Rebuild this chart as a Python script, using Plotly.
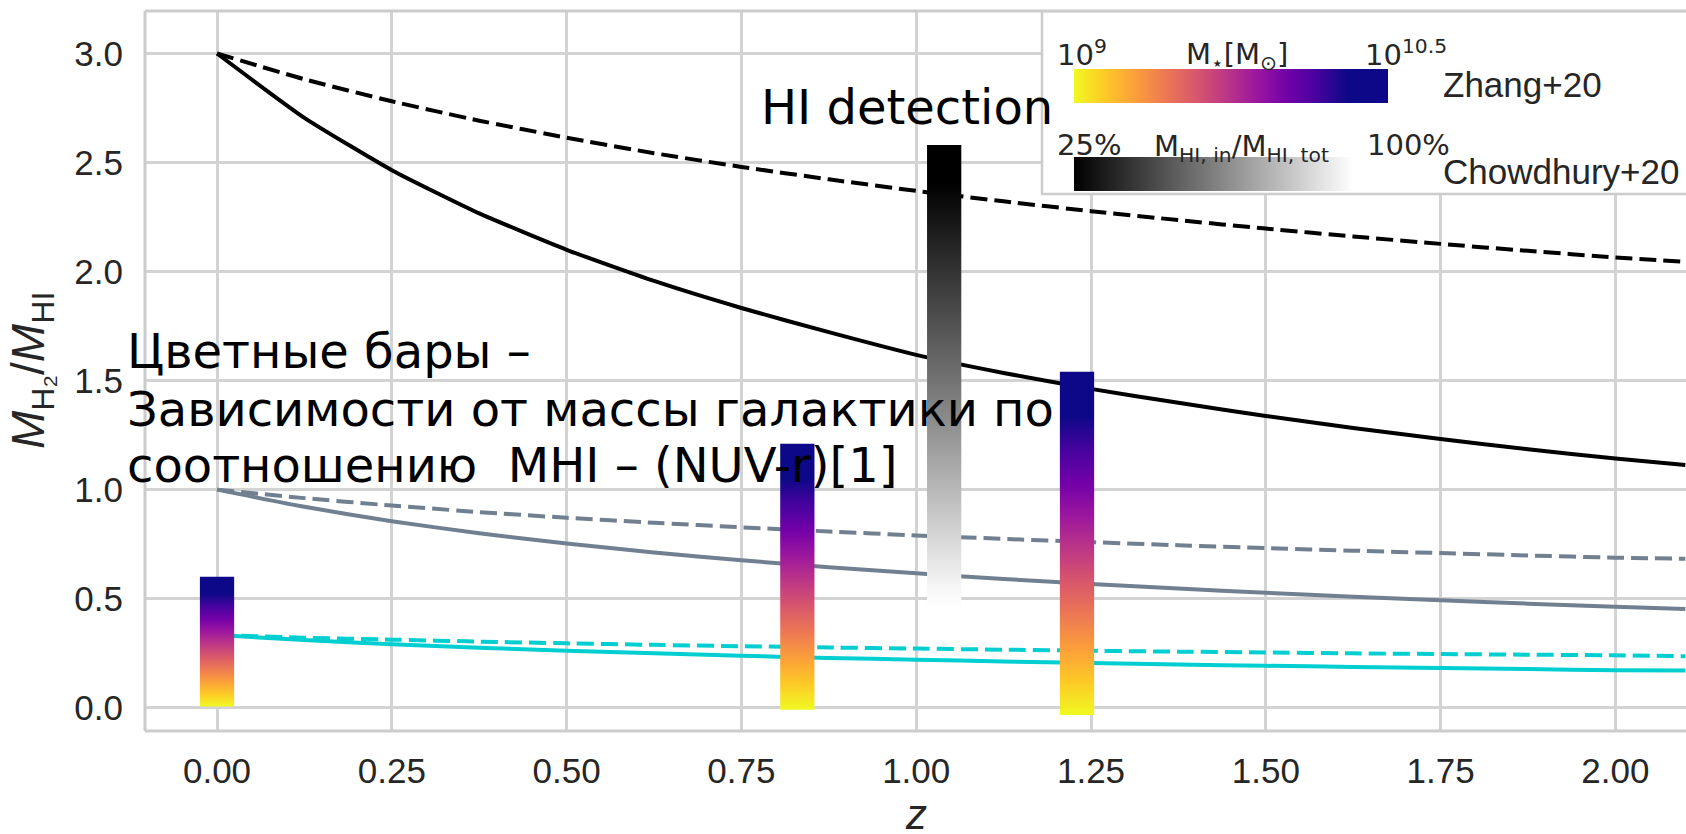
import plotly.graph_objects as go

# ---------------- data ----------------
z_model = [0.0, 0.125, 0.25, 0.375, 0.5, 0.625, 0.75, 0.875, 1.0, 1.125, 1.25,
           1.375, 1.5, 1.625, 1.75, 1.875, 2.0, 2.1]
black_solid = [3.00, 2.705, 2.465, 2.267, 2.100, 1.957, 1.833, 1.722, 1.618, 1.535, 1.462,
               1.398, 1.338, 1.283, 1.232, 1.185, 1.143, 1.113]
black_dashed = [3.00, 2.882, 2.781, 2.692, 2.614, 2.543, 2.480, 2.423, 2.370, 2.322, 2.277,
                2.236, 2.197, 2.161, 2.127, 2.095, 2.065, 2.045]
grey_solid = [1.00, 0.921, 0.855, 0.800, 0.753, 0.712, 0.676, 0.644, 0.616, 0.590, 0.567,
              0.546, 0.527, 0.509, 0.493, 0.477, 0.463, 0.452]
grey_dashed = [1.00, 0.961, 0.927, 0.897, 0.871, 0.848, 0.827, 0.808, 0.790, 0.774, 0.759,
               0.745, 0.732, 0.720, 0.709, 0.698, 0.688, 0.683]
cyan_solid = [0.333, 0.310, 0.291, 0.275, 0.261, 0.249, 0.238, 0.228, 0.220, 0.212, 0.205,
              0.198, 0.192, 0.187, 0.182, 0.177, 0.172, 0.170]
cyan_dashed = [0.333, 0.321, 0.312, 0.303, 0.295, 0.288, 0.282, 0.276, 0.271, 0.266, 0.261,
               0.257, 0.253, 0.249, 0.246, 0.243, 0.240, 0.236]

zhang_z = [0.0, 0.83, 1.23]
zhang_bottom = [0.005, -0.01, -0.034]
zhang_top = [0.60, 1.21, 1.54]

chow_z = [1.04]
chow_bottom = [0.46]
chow_top = [2.58]

bar_width = 0.049

x_ticks = [0.0, 0.25, 0.5, 0.75, 1.0, 1.25, 1.5, 1.75, 2.0]
y_ticks = [0.0, 0.5, 1.0, 1.5, 2.0, 2.5, 3.0]

# ---------------- styles ----------------
PLASMA = ['#0d0887', '#46039f', '#7201a8', '#9c179e', '#bd3786',
          '#d8576b', '#ed7953', '#fb9f3a', '#fdca26', '#f0f921']
plasma_up = [[i / 9 * 0.87, c] for i, c in enumerate(reversed(PLASMA))] + [[1.0, '#0d0887']]
grey_up = [[0.0, '#ffffff'], [0.04, '#f7f7f7'], [0.5, '#707070'], [0.92, '#000000'], [1.0, '#000000']]
grey_right = [[0.0, '#000000'], [0.89, '#ffffff'], [1.0, '#ffffff']]

GRID = '#d3d3d3'
TXT = '#262626'
SANS = 'Liberation Sans, Arial, sans-serif'
DV = 'DejaVu Sans, sans-serif'
DASH = '17px,7px'
LW = 4

fig = go.Figure()

lines = [
    (black_dashed, 'black', DASH),
    (black_solid, 'black', 'solid'),
    (grey_dashed, '#708090', DASH),
    (grey_solid, '#708090', 'solid'),
    (cyan_dashed, '#00ced1', DASH),
    (cyan_solid, '#00ced1', 'solid'),
]
for vals, col, dash in lines:
    fig.add_trace(go.Scatter(x=z_model, y=vals, mode='lines',
                             line=dict(color=col, width=LW, dash=dash, shape='spline', smoothing=0.5),
                             showlegend=False, hoverinfo='skip'))


def bar_trace(zc, b, t, cs):
    x0, x1 = zc - bar_width / 2, zc + bar_width / 2
    return go.Scatter(x=[x0, x1, x1, x0, x0], y=[b, b, t, t, b], mode='lines',
                      line=dict(width=0), fill='toself',
                      fillgradient=dict(type='vertical', colorscale=cs, start=b, stop=t),
                      showlegend=False, hoverinfo='skip')


for zc, b, t in zip(zhang_z, zhang_bottom, zhang_top):
    fig.add_trace(bar_trace(zc, b, t, plasma_up))
for zc, b, t in zip(chow_z, chow_bottom, chow_top):
    fig.add_trace(bar_trace(zc, b, t, grey_up))

# ---------------- legend box (pixel coordinates on an overlay axis) ----------------
L, R, T, B = 145, 1686, 11, 731


def rect(x0, x1, y0, y1, **kw):
    return go.Scatter(x=[x0, x1, x1, x0, x0], y=[y0, y0, y1, y1, y0], mode='lines',
                      fill='toself', xaxis='x2', yaxis='y2', showlegend=False,
                      hoverinfo='skip', **kw)


fig.add_trace(rect(1042, 1720, 11, 194, line=dict(color='#cccccc', width=2.5), fillcolor='white'))
fig.add_trace(rect(1074, 1388, 69, 103, line=dict(width=0),
                   fillgradient=dict(type='horizontal', colorscale=plasma_up,
                                     start=1074, stop=1388)))
fig.add_trace(rect(1074, 1388, 157, 191, line=dict(width=0),
                   fillgradient=dict(type='horizontal', colorscale=grey_right,
                                     start=1074, stop=1388)))

ann = []


def A(text, px, py, size, family, color=TXT, xanchor='left', yanchor='middle', angle=0):
    ann.append(dict(text=text, x=(px - L) / (R - L), y=(B - py) / (B - T),
                    xref='paper', yref='paper', showarrow=False,
                    xanchor=xanchor, yanchor=yanchor, textangle=angle,
                    font=dict(size=size, family=family, color=color)))


A('10<sup>9</sup>', 1055, 53, 29, DV)
A('M<sub>⋆</sub>[M<sub>⊙</sub>]', 1237, 56, 29, DV, xanchor='center')
A('10<sup>10.5</sup>', 1363, 53, 29, DV)
A('Zhang+20', 1441, 85, 35, SANS)
A('25%', 1055, 145, 29, DV)
A('M<sub>HI, in</sub>/M<sub>HI, tot</sub>', 1152, 148, 29, DV)
A('100%', 1365, 145, 29, DV)
A('Chowdhury+20', 1441, 171, 35, SANS)

A('HI detection', 759, 107, 48, DV, color='black')
A('Цветные бары –', 125, 351, 48, DV, color='black')
A('Зависимости от массы галактики по', 125, 409, 48, DV, color='black')
A('соотношению\u00a0 MHI – (NUV-r)[1]', 125, 465, 48, DV, color='black')

A('<i>M</i><sub>H₂</sub>/<i>M</i><sub>HI</sub>', 31, 371, 46, SANS, xanchor='center', angle=-90)
A('<i>z</i>', 916, 814, 42, SANS, xanchor='center')

frame = dict(type='line', xref='paper', yref='paper', line=dict(color='#cccccc', width=3), layer='above')
shapes = [
    dict(frame, x0=0, x1=0, y0=0, y1=1),
    dict(frame, x0=0, x1=1, y0=0, y1=0),
    dict(frame, x0=0, x1=1, y0=1, y1=1),
]

fig.update_layout(
    width=1686, height=834,
    margin=dict(l=L, r=1686 - R, t=T, b=834 - B),
    paper_bgcolor='white', plot_bgcolor='white',
    showlegend=False,
    annotations=ann,
    shapes=shapes,
    xaxis=dict(range=[-0.103, 2.101], tickvals=x_ticks, ticktext=[f'{v:.2f}' for v in x_ticks],
               showgrid=True, gridcolor=GRID, gridwidth=2.5, zeroline=False, showline=False,
               ticks='outside', ticklen=9, tickcolor='rgba(0,0,0,0)',
               tickfont=dict(size=35, family=SANS, color=TXT), fixedrange=True),
    yaxis=dict(range=[-0.107, 3.195], tickvals=y_ticks, ticktext=[f'{v:.1f}' for v in y_ticks],
               showgrid=True, gridcolor=GRID, gridwidth=2.5, zeroline=False, showline=False,
               ticks='outside', ticklen=14, tickcolor='rgba(0,0,0,0)',
               tickfont=dict(size=35, family=SANS, color=TXT), fixedrange=True),
    xaxis2=dict(range=[L, R], overlaying='x', visible=False, fixedrange=True),
    yaxis2=dict(range=[B, T], overlaying='y', visible=False, fixedrange=True),
)

fig.write_html('out.html')
